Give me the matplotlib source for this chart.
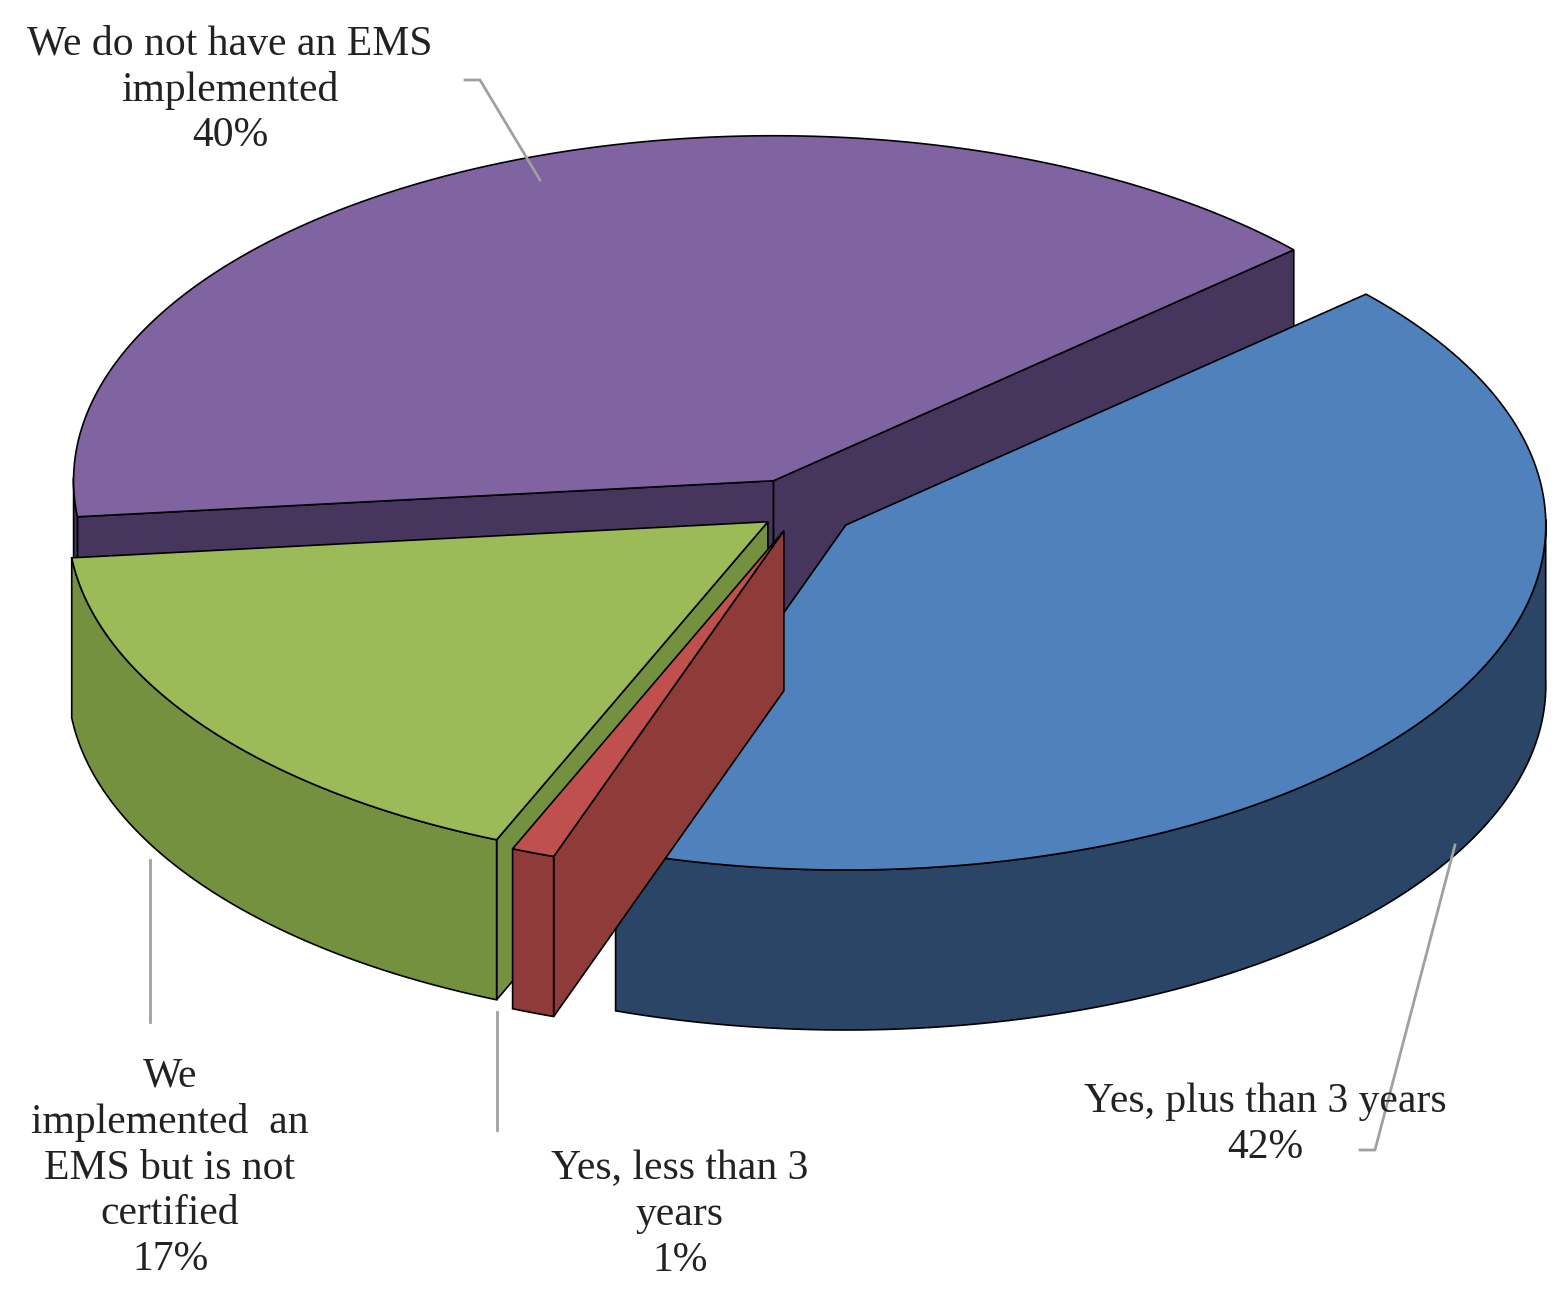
import numpy as np
import matplotlib.pyplot as plt
from matplotlib.patches import Polygon

labels = ["Yes, plus than 3 years\n42%",
          "Yes, less than 3\nyears\n1%",
          "We\nimplemented  an\nEMS but is not\ncertified\n17%",
          "We do not have an EMS\nimplemented\n40%"]
values = [42, 1, 17, 40]
top_colors = ["#4F81BD", "#C0504D", "#9BBB59", "#8064A2"]
side_colors = ["#2A4566", "#8E3B39", "#74913F", "#46365E"]
explode = [55, 45, 40, 65]

# geometry in pixel space (y down)
cx, cy = 800, 510
Rx, Ry = 700, 345
depth = 160
start = 42.0

fig = plt.figure(figsize=(15.64, 13.01), dpi=100)
ax = fig.add_axes([0, 0, 1, 1])
ax.set_xlim(0, 1564)
ax.set_ylim(1301, 0)
ax.axis("off")


def pt(ox, oy, a, dz=0):
    r = np.radians(a)
    return ox + Rx * np.cos(r), oy - Ry * np.sin(r) + dz


slices = []
a0 = start
for i, v in enumerate(values):
    a1 = a0 - v / sum(values) * 360
    mid = np.radians((a0 + a1) / 2)
    ox = cx + explode[i] * np.cos(mid)
    oy = cy - explode[i] * np.sin(mid) * Ry / Rx
    slices.append((i, a0, a1, ox, oy, np.sin(mid)))
    a0 = a1

# back slices first
slices.sort(key=lambda s: -s[5])
ec = dict(edgecolor="black", linewidth=1.2)
for i, a0, a1, ox, oy, _ in slices:
    angs = np.linspace(a1, a0, 200)
    # radial faces, only those facing the viewer
    for a, vis in ((a0, np.cos(np.radians(a0)) < 0), (a1, np.cos(np.radians(a1)) > 0)):
        if not vis:
            continue
        px, py = pt(ox, oy, a)
        ax.add_patch(Polygon([(ox, oy), (px, py), (px, py + depth), (ox, oy + depth)],
                             facecolor=side_colors[i], **ec))
    # front outer wall
    front = [a for a in angs if np.sin(np.radians(a)) < 0.02]
    if front:
        fa = np.array(front)
        xs, ys = pt(ox, oy, fa)
        poly = list(zip(xs, ys)) + list(zip(xs[::-1], ys[::-1] + depth))
        ax.add_patch(Polygon(poly, facecolor=side_colors[i], **ec))
    xs, ys = pt(ox, oy, angs)
    ax.add_patch(Polygon([(ox, oy)] + list(zip(xs, ys)), facecolor=top_colors[i], **ec))

font = dict(family="Liberation Serif", fontsize=30, ha="center", va="center",
            linespacing=1.25, color="#222222")
ax.text(230, 90, labels[3], **font)
ax.text(1265, 1125, labels[0], **font)
ax.text(680, 1215, labels[1], **font)
ax.text(170, 1168, labels[2], **font)

lc = dict(color="#A0A0A0", linewidth=2)
ax.plot([465, 480, 540], [80, 80, 180], **lc)
ax.plot([1455, 1375, 1360], [845, 1150, 1150], **lc)
ax.plot([497, 497], [1012, 1130], **lc)
ax.plot([150, 150], [860, 1022], **lc)

fig.savefig("out.png", dpi=100)
